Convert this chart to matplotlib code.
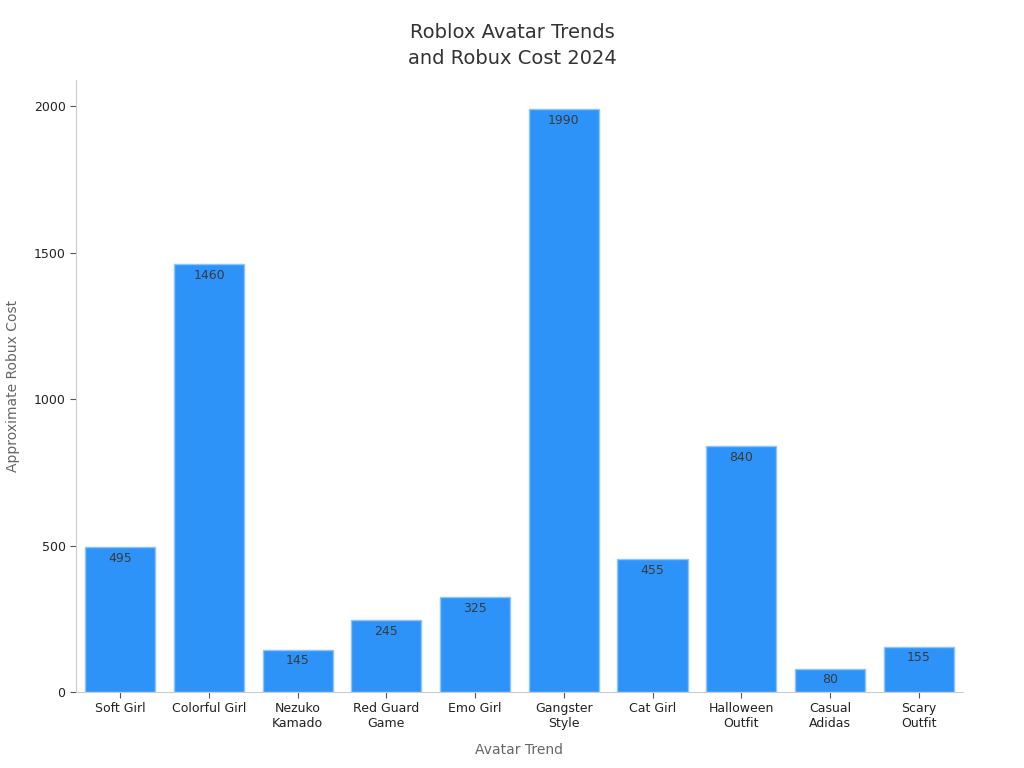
import matplotlib
matplotlib.use("Agg")
import matplotlib.pyplot as plt

categories = ["Soft Girl", "Colorful Girl", "Nezuko\nKamado", "Red Guard\nGame", "Emo Girl",
              "Gangster\nStyle", "Cat Girl", "Halloween\nOutfit", "Casual\nAdidas", "Scary\nOutfit"]
costs = [495, 1460, 145, 245, 325, 1990, 455, 840, 80, 155]

plt.rcParams['font.family'] = ['DejaVu Sans']
fig = plt.figure(figsize=(10.24, 7.68), dpi=100)
ax = fig.add_axes([0.0742, 0.099, 0.8662, 0.797])

x = list(range(len(categories)))
bars = ax.bar(x, costs, width=0.79, color="#2E93F8", edgecolor="#8cc4fb", linewidth=1)
for xi, v in zip(x, costs):
    ax.annotate(str(v), (xi, v), xytext=(0, -3.5), textcoords="offset points",
                ha="center", va="top", fontsize=9, color="#3a3a3a")

ax.set_xlim(-0.5, 9.5)
ax.set_ylim(0, 2090)
ax.set_yticks([0, 500, 1000, 1500, 2000])
ax.set_xticks(x)
ax.set_xticklabels(categories, fontsize=9, color="#222222")
ax.tick_params(axis="y", labelsize=9, labelcolor="#222222", color="#555555", length=4)
ax.tick_params(axis="x", color="#555555", length=4)
for s in ["top", "right"]:
    ax.spines[s].set_visible(False)
for s in ["left", "bottom"]:
    ax.spines[s].set_color("#cccccc")
ax.set_xlabel("Avatar Trend", fontsize=10, color="#666666", labelpad=9)
ax.set_ylabel("Approximate Robux Cost", fontsize=10, color="#666666", labelpad=10)
fig.text(0.5, 0.941, "Roblox Avatar Trends\nand Robux Cost 2024", fontsize=14, color="#333333",
         ha="center", va="center", linespacing=1.45)

fig.savefig("out.png", dpi=100)
